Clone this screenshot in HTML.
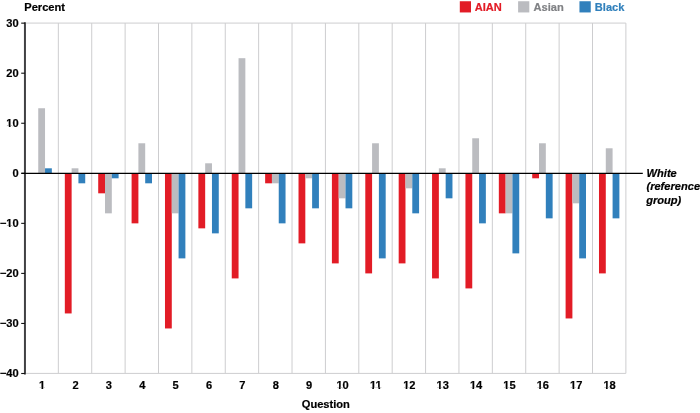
<!DOCTYPE html>
<html lang="en"><head><meta charset="utf-8"><title>Chart</title>
<style>
html,body{margin:0;padding:0;background:#fff;}
body{width:700px;height:413px;overflow:hidden;}
svg{display:block;}
svg text{font-family:"Liberation Sans",Arial,sans-serif;font-weight:bold;font-size:11.1px;color:#000;fill:currentColor;stroke:currentColor;stroke-width:0.2px;}
</style></head><body>
<svg width="700" height="413" viewBox="0 0 700 413">
<rect width="700" height="413" fill="#fff"/>
<g stroke="#cdcdcf" stroke-width="1" fill="none">
<line x1="58.33" y1="23.08" x2="58.33" y2="373.4"/>
<line x1="91.72" y1="23.08" x2="91.72" y2="373.4"/>
<line x1="125.11" y1="23.08" x2="125.11" y2="373.4"/>
<line x1="158.49" y1="23.08" x2="158.49" y2="373.4"/>
<line x1="191.87" y1="23.08" x2="191.87" y2="373.4"/>
<line x1="225.26" y1="23.08" x2="225.26" y2="373.4"/>
<line x1="258.64" y1="23.08" x2="258.64" y2="373.4"/>
<line x1="292.03" y1="23.08" x2="292.03" y2="373.4"/>
<line x1="325.41" y1="23.08" x2="325.41" y2="373.4"/>
<line x1="358.80" y1="23.08" x2="358.80" y2="373.4"/>
<line x1="392.18" y1="23.08" x2="392.18" y2="373.4"/>
<line x1="425.57" y1="23.08" x2="425.57" y2="373.4"/>
<line x1="458.95" y1="23.08" x2="458.95" y2="373.4"/>
<line x1="492.34" y1="23.08" x2="492.34" y2="373.4"/>
<line x1="525.73" y1="23.08" x2="525.73" y2="373.4"/>
<line x1="559.11" y1="23.08" x2="559.11" y2="373.4"/>
<line x1="592.50" y1="23.08" x2="592.50" y2="373.4"/>
<line x1="625.88" y1="23.08" x2="625.88" y2="373.4"/>
<line x1="24.95" y1="23.08" x2="625.88" y2="23.08"/>
<line x1="24.95" y1="373.4" x2="625.88" y2="373.4"/>
</g>
<rect x="38.24" y="108.24" width="6.8" height="65.06" fill="#bbbcc0"/>
<rect x="45.04" y="168.30" width="6.8" height="5.00" fill="#3180bc"/>
<rect x="64.83" y="173.30" width="6.8" height="140.14" fill="#e21c26"/>
<rect x="71.63" y="168.30" width="6.8" height="5.00" fill="#bbbcc0"/>
<rect x="78.43" y="173.30" width="6.8" height="10.01" fill="#3180bc"/>
<rect x="98.21" y="173.30" width="6.8" height="20.02" fill="#e21c26"/>
<rect x="105.01" y="173.30" width="6.8" height="40.04" fill="#bbbcc0"/>
<rect x="111.81" y="173.30" width="6.8" height="5.00" fill="#3180bc"/>
<rect x="131.60" y="173.30" width="6.8" height="50.05" fill="#e21c26"/>
<rect x="138.40" y="143.27" width="6.8" height="30.03" fill="#bbbcc0"/>
<rect x="145.20" y="173.30" width="6.8" height="10.01" fill="#3180bc"/>
<rect x="164.98" y="173.30" width="6.8" height="155.16" fill="#e21c26"/>
<rect x="171.78" y="173.30" width="6.8" height="40.04" fill="#bbbcc0"/>
<rect x="178.58" y="173.30" width="6.8" height="85.08" fill="#3180bc"/>
<rect x="198.37" y="173.30" width="6.8" height="55.05" fill="#e21c26"/>
<rect x="205.17" y="163.29" width="6.8" height="10.01" fill="#bbbcc0"/>
<rect x="211.97" y="173.30" width="6.8" height="60.06" fill="#3180bc"/>
<rect x="231.75" y="173.30" width="6.8" height="105.11" fill="#e21c26"/>
<rect x="238.55" y="58.19" width="6.8" height="115.11" fill="#bbbcc0"/>
<rect x="245.35" y="173.30" width="6.8" height="35.03" fill="#3180bc"/>
<rect x="265.14" y="173.30" width="6.8" height="10.01" fill="#e21c26"/>
<rect x="271.94" y="173.30" width="6.8" height="10.01" fill="#bbbcc0"/>
<rect x="278.74" y="173.30" width="6.8" height="50.05" fill="#3180bc"/>
<rect x="298.52" y="173.30" width="6.8" height="70.07" fill="#e21c26"/>
<rect x="305.32" y="173.30" width="6.8" height="5.00" fill="#bbbcc0"/>
<rect x="312.12" y="173.30" width="6.8" height="35.03" fill="#3180bc"/>
<rect x="331.91" y="173.30" width="6.8" height="90.09" fill="#e21c26"/>
<rect x="338.71" y="173.30" width="6.8" height="25.02" fill="#bbbcc0"/>
<rect x="345.51" y="173.30" width="6.8" height="35.03" fill="#3180bc"/>
<rect x="365.29" y="173.30" width="6.8" height="100.10" fill="#e21c26"/>
<rect x="372.09" y="143.27" width="6.8" height="30.03" fill="#bbbcc0"/>
<rect x="378.89" y="173.30" width="6.8" height="85.08" fill="#3180bc"/>
<rect x="398.68" y="173.30" width="6.8" height="90.09" fill="#e21c26"/>
<rect x="405.48" y="173.30" width="6.8" height="15.02" fill="#bbbcc0"/>
<rect x="412.28" y="173.30" width="6.8" height="40.04" fill="#3180bc"/>
<rect x="432.06" y="173.30" width="6.8" height="105.11" fill="#e21c26"/>
<rect x="438.86" y="168.30" width="6.8" height="5.00" fill="#bbbcc0"/>
<rect x="445.66" y="173.30" width="6.8" height="25.02" fill="#3180bc"/>
<rect x="465.45" y="173.30" width="6.8" height="115.11" fill="#e21c26"/>
<rect x="472.25" y="138.27" width="6.8" height="35.03" fill="#bbbcc0"/>
<rect x="479.05" y="173.30" width="6.8" height="50.05" fill="#3180bc"/>
<rect x="498.83" y="173.30" width="6.8" height="40.04" fill="#e21c26"/>
<rect x="505.63" y="173.30" width="6.8" height="40.04" fill="#bbbcc0"/>
<rect x="512.43" y="173.30" width="6.8" height="80.08" fill="#3180bc"/>
<rect x="532.22" y="173.30" width="6.8" height="5.00" fill="#e21c26"/>
<rect x="539.02" y="143.27" width="6.8" height="30.03" fill="#bbbcc0"/>
<rect x="545.82" y="173.30" width="6.8" height="45.05" fill="#3180bc"/>
<rect x="565.60" y="173.30" width="6.8" height="145.15" fill="#e21c26"/>
<rect x="572.40" y="173.30" width="6.8" height="30.03" fill="#bbbcc0"/>
<rect x="579.20" y="173.30" width="6.8" height="85.08" fill="#3180bc"/>
<rect x="598.99" y="173.30" width="6.8" height="100.10" fill="#e21c26"/>
<rect x="605.79" y="148.28" width="6.8" height="25.02" fill="#bbbcc0"/>
<rect x="612.59" y="173.30" width="6.8" height="45.05" fill="#3180bc"/>
<line x1="24.95" y1="22.2" x2="24.95" y2="374.6" stroke="#414143" stroke-width="2"/>
<g stroke="#111" stroke-width="1.1">
<line x1="21.2" y1="23.15" x2="24.95" y2="23.15"/>
<line x1="21.2" y1="73.20" x2="24.95" y2="73.20"/>
<line x1="21.2" y1="123.25" x2="24.95" y2="123.25"/>
<line x1="21.2" y1="173.30" x2="24.95" y2="173.30"/>
<line x1="21.2" y1="223.35" x2="24.95" y2="223.35"/>
<line x1="21.2" y1="273.40" x2="24.95" y2="273.40"/>
<line x1="21.2" y1="323.45" x2="24.95" y2="323.45"/>
<line x1="21.2" y1="373.50" x2="24.95" y2="373.50"/>
</g>
<line x1="21.4" y1="173.4" x2="642.8" y2="173.4" stroke="#000" stroke-width="1.4"/>
<g text-anchor="end">
<text x="18.7" y="27.00">30</text>
<text x="18.7" y="77.05">20</text>
<text x="18.7" y="127.10">10</text>
<text x="18.7" y="177.15">0</text>
<text x="18.7" y="227.20">−10</text>
<text x="18.7" y="277.25">−20</text>
<text x="18.7" y="327.30">−30</text>
<text x="18.7" y="377.35">−40</text>
</g>
<g text-anchor="middle">
<text x="42.09" y="389">1</text>
<text x="75.48" y="389">2</text>
<text x="108.86" y="389">3</text>
<text x="142.25" y="389">4</text>
<text x="175.63" y="389">5</text>
<text x="209.02" y="389">6</text>
<text x="242.40" y="389">7</text>
<text x="275.79" y="389">8</text>
<text x="309.17" y="389">9</text>
<text x="342.56" y="389">10</text>
<text x="375.94" y="389">11</text>
<text x="409.33" y="389">12</text>
<text x="442.71" y="389">13</text>
<text x="476.10" y="389">14</text>
<text x="509.48" y="389">15</text>
<text x="542.87" y="389">16</text>
<text x="576.25" y="389">17</text>
<text x="609.64" y="389">18</text>
<text x="325.8" y="407.9">Question</text>
</g>
<text x="24.3" y="11">Percent</text>
<g>
<rect x="38.71" y="387.40" width="2.80" height="2.6" fill="#fff"/><rect x="43.21" y="387.40" width="2.2" height="2.6" fill="#fff"/>
<rect x="336.08" y="387.40" width="2.80" height="2.6" fill="#fff"/><rect x="340.58" y="387.40" width="2.2" height="2.6" fill="#fff"/>
<rect x="369.47" y="387.40" width="2.80" height="2.6" fill="#fff"/><rect x="373.97" y="387.40" width="2.2" height="2.6" fill="#fff"/>
<rect x="375.64" y="387.40" width="2.80" height="2.6" fill="#fff"/><rect x="380.14" y="387.40" width="2.2" height="2.6" fill="#fff"/>
<rect x="402.85" y="387.40" width="2.80" height="2.6" fill="#fff"/><rect x="407.35" y="387.40" width="2.2" height="2.6" fill="#fff"/>
<rect x="436.24" y="387.40" width="2.80" height="2.6" fill="#fff"/><rect x="440.74" y="387.40" width="2.2" height="2.6" fill="#fff"/>
<rect x="469.62" y="387.40" width="2.80" height="2.6" fill="#fff"/><rect x="474.12" y="387.40" width="2.2" height="2.6" fill="#fff"/>
<rect x="503.01" y="387.40" width="2.80" height="2.6" fill="#fff"/><rect x="507.51" y="387.40" width="2.2" height="2.6" fill="#fff"/>
<rect x="536.39" y="387.40" width="2.80" height="2.6" fill="#fff"/><rect x="540.89" y="387.40" width="2.2" height="2.6" fill="#fff"/>
<rect x="569.78" y="387.40" width="2.80" height="2.6" fill="#fff"/><rect x="574.28" y="387.40" width="2.2" height="2.6" fill="#fff"/>
<rect x="603.16" y="387.40" width="2.80" height="2.6" fill="#fff"/><rect x="607.66" y="387.40" width="2.2" height="2.6" fill="#fff"/>
<rect x="6.05" y="125.50" width="2.80" height="2.6" fill="#fff"/><rect x="10.55" y="125.50" width="2.2" height="2.6" fill="#fff"/>
<rect x="6.05" y="225.60" width="2.80" height="2.6" fill="#fff"/><rect x="10.55" y="225.60" width="2.2" height="2.6" fill="#fff"/>
</g>
<rect x="459.8" y="1.25" width="11.2" height="11.2" fill="#e21c26"/>
<text x="474.7" y="10.8" style="color:#e21c26">AIAN</text>
<rect x="518.1" y="1.25" width="11.2" height="11.2" fill="#bbbcc0"/>
<text x="533.6" y="10.8" style="color:#808285">Asian</text>
<rect x="579.45" y="1.25" width="11.3" height="11.2" fill="#3180bc"/>
<text x="594.8" y="10.8" style="color:#3180bc">Black</text>
<g style="font-style:italic">
<text x="646.6" y="176.8" style="font-style:italic">White</text>
<text x="646.45" y="190.4" style="font-style:italic">(reference</text>
<text x="646.2" y="203.9" style="font-style:italic">group)</text>
</g>
</svg>
</body></html>
